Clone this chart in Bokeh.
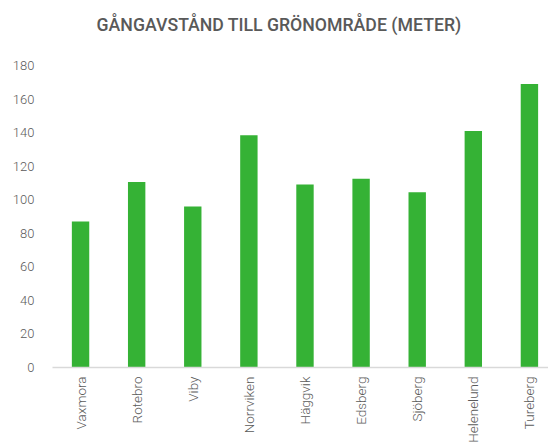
from bokeh.plotting import figure
from bokeh.models import Range1d, FixedTicker, Title
from bokeh.embed import file_html
from bokeh.resources import INLINE

areas = ["Vaxmora", "Rotebro", "Viby", "Norrviken", "Häggvik", "Edsberg",
         "Sjöberg", "Helenelund", "Tureberg"]
distance_m = [87, 110.5, 96, 138.5, 109, 112.5, 104.5, 141, 169]
y_ticks = [0, 20, 40, 60, 80, 100, 120, 140, 160, 180]
title_text = "GÅNGAVSTÅND TILL GRÖNOMRÅDE (METER)"

xs = list(range(len(areas)))
label_font = "Roboto Light, Roboto"

p = figure(width=548, height=448, output_backend="svg", toolbar_location=None,
           x_range=Range1d(-0.5, len(areas) - 1 + 0.34),
           y_range=Range1d(0, 180),
           min_border_left=52, min_border_right=0, min_border_top=65,
           min_border_bottom=81)

p.vbar(x=xs, top=distance_m, width=0.31, bottom=0,
       fill_color="#35b235", line_color=None)

# second (blank) line pushes the title up towards the top of the figure
t = Title(text=title_text + "\n\u00a0", align="left", vertical_align="bottom",
          text_font="Roboto Medium, Roboto", text_font_size="17.7px",
          text_font_style="normal", text_color="#595959", offset=44,
          standoff=22)
p.add_layout(t, "above")

p.outline_line_color = None
p.xgrid.grid_line_color = None
p.ygrid.grid_line_color = None
p.background_fill_color = "white"
p.border_fill_color = "white"

p.yaxis.ticker = FixedTicker(ticks=y_ticks)
p.yaxis.axis_line_color = None
p.yaxis.major_tick_line_color = None
p.yaxis.major_tick_out = 0
p.yaxis.major_tick_in = 0
p.yaxis.minor_tick_line_color = None
p.yaxis.major_label_text_font = label_font
p.yaxis.major_label_text_font_size = "13px"
p.yaxis.major_label_text_color = "#5a5a5a"
p.yaxis.major_label_standoff = 18

p.xaxis.ticker = FixedTicker(ticks=xs)
p.xaxis.major_label_overrides = {i: n for i, n in zip(xs, areas)}
p.xaxis.major_label_orientation = 1.5707963
p.xaxis.axis_line_color = "#d9d9d9"
p.xaxis.axis_line_width = 1.5
p.xaxis.major_tick_line_color = None
p.xaxis.major_tick_out = 0
p.xaxis.major_tick_in = 0
p.xaxis.minor_tick_line_color = None
p.xaxis.major_label_text_font = label_font
p.xaxis.major_label_text_font_size = "13.5px"
p.xaxis.major_label_text_color = "#5a5a5a"
p.xaxis.major_label_standoff = 9

open("out.html", "w").write(file_html(p, INLINE))
